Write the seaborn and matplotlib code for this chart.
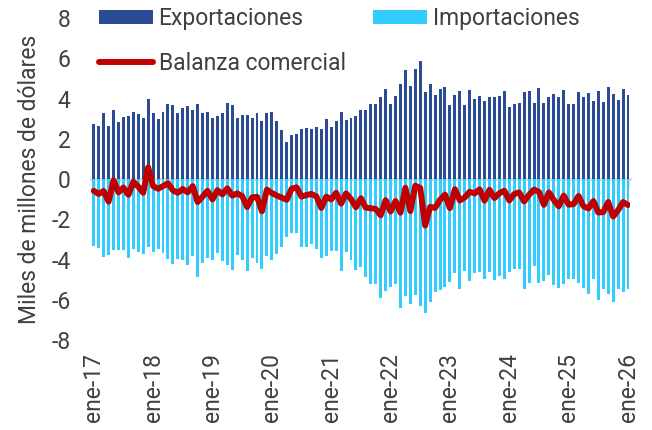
import numpy as np
import pandas as pd
import seaborn as sns
import matplotlib.pyplot as plt

sns.set_theme(style="white")
plt.rcParams["font.family"] = ["Roboto", "DejaVu Sans"]
plt.rcParams["axes.unicode_minus"] = False

# Monthly values, Jan 2017 - Jan 2026 (miles de millones de dolares)
exportaciones = [
    2.72, 2.66, 3.27, 2.66, 3.45, 2.85, 3.09, 3.15, 3.35, 3.22, 3.05, 3.96,
    3.28, 2.99, 3.33, 3.75, 3.68, 3.30, 3.55, 3.63, 3.45, 3.73, 3.30, 3.35,
    3.02, 3.13, 3.30, 3.80, 3.68, 3.05, 3.20, 3.20, 3.02, 3.28, 2.89, 3.28,
    3.35, 2.89, 2.43, 1.83, 2.18, 2.26, 2.51, 2.56, 2.49, 2.61, 2.48, 2.97,
    2.57, 2.90, 3.33, 2.92, 3.05, 3.12, 3.42, 3.42, 3.75, 3.75, 4.09, 4.49,
    3.75, 4.14, 4.72, 5.40, 4.60, 5.45, 5.86, 4.32, 4.72, 4.16, 4.50, 4.59,
    3.68, 4.17, 4.39, 3.68, 4.42, 3.96, 4.11, 3.88, 4.09, 4.09, 4.12, 4.37,
    3.56, 3.75, 3.80, 4.34, 4.37, 3.80, 4.54, 3.80, 4.09, 4.24, 4.06, 4.41,
    3.71, 3.71, 4.32, 4.06, 4.27, 3.89, 4.36, 3.81, 4.59, 4.24, 3.94, 4.47,
    4.19,
]
importaciones = [
    -3.30, -3.40, -3.86, -3.78, -3.51, -3.51, -3.51, -3.93, -3.48, -3.60, -3.73, -3.38,
    -3.63, -3.47, -3.68, -3.96, -4.24, -3.98, -4.04, -4.29, -3.80, -4.87, -4.17, -3.93,
    -4.03, -3.68, -4.06, -4.26, -4.50, -3.76, -4.04, -4.59, -3.93, -4.16, -4.49, -3.80,
    -4.04, -3.71, -3.35, -2.86, -2.66, -2.67, -3.38, -3.35, -3.23, -3.47, -3.91, -3.84,
    -3.58, -3.58, -4.55, -3.63, -4.04, -4.52, -4.37, -4.84, -5.20, -5.23, -5.89, -5.54,
    -5.36, -5.23, -6.39, -5.83, -6.19, -5.78, -6.30, -6.63, -6.10, -5.59, -5.53, -5.36,
    -5.12, -4.67, -5.45, -4.59, -5.05, -4.67, -4.62, -4.95, -4.62, -5.03, -4.82, -4.95,
    -4.62, -4.49, -4.46, -5.45, -5.15, -4.32, -5.18, -5.08, -4.75, -5.28, -5.41, -5.23,
    -4.98, -4.95, -5.16, -5.41, -5.73, -4.98, -6.02, -5.45, -5.73, -6.10, -5.48, -5.61,
    -5.48,
]
balanza = [
    -0.58, -0.74, -0.59, -1.12, -0.06, -0.66, -0.42, -0.78, -0.13, -0.38, -0.68, 0.58,
    -0.35, -0.48, -0.35, -0.21, -0.56, -0.68, -0.49, -0.66, -0.35, -1.14, -0.87, -0.58,
    -1.01, -0.55, -0.76, -0.46, -0.82, -0.71, -0.84, -1.39, -0.91, -0.88, -1.60, -0.52,
    -0.69, -0.82, -0.92, -1.03, -0.48, -0.41, -0.87, -0.79, -0.74, -0.86, -1.43, -0.87,
    -1.01, -0.68, -1.22, -0.71, -0.99, -1.40, -0.95, -1.42, -1.45, -1.48, -1.80, -1.05,
    -1.61, -1.09, -1.67, -0.43, -1.59, -0.33, -0.44, -2.31, -1.38, -1.43, -1.03, -0.77,
    -1.44, -0.50, -1.06, -0.91, -0.63, -0.71, -0.51, -1.07, -0.53, -0.94, -0.70, -0.58,
    -1.06, -0.74, -0.66, -1.11, -0.78, -0.52, -0.64, -1.28, -0.66, -1.04, -1.35, -0.82,
    -1.27, -1.24, -0.84, -1.35, -1.46, -1.09, -1.66, -1.64, -1.14, -1.86, -1.54, -1.14,
    -1.29,
]
etiquetas = ["ene-17", "ene-18", "ene-19", "ene-20", "ene-21",
             "ene-22", "ene-23", "ene-24", "ene-25", "ene-26"]
yticks = [-8, -6, -4, -2, 0, 2, 4, 6, 8]

data = pd.DataFrame({
    "mes": np.arange(len(exportaciones)),
    "exp": exportaciones,
    "imp": importaciones,
    "bal": balanza,
})

texto = "#404040"
fs = 16.5
fig, ax = plt.subplots(figsize=(6.52, 4.30), dpi=100)
fig.subplots_adjust(left=0.140, right=0.967, top=0.958, bottom=0.209)

sns.barplot(data=data, x="mes", y="exp", native_scale=True, color="#2B4C94",
            saturation=1, width=0.6, linewidth=0, errorbar=None, ax=ax,
            label="Exportaciones")
sns.barplot(data=data, x="mes", y="imp", native_scale=True, color="#33CCFF",
            saturation=1, width=0.6, linewidth=0, errorbar=None, ax=ax,
            label="Importaciones")
sns.lineplot(data=data, x="mes", y="bal", color="#C00000", linewidth=4.3,
             solid_capstyle="round", solid_joinstyle="round", ax=ax,
             label="Balanza comercial")

ax.set_xlim(-0.5, len(exportaciones) - 0.5)
ax.set_ylim(-8, 8)
for s in ax.spines.values():
    s.set_visible(False)

posiciones = list(range(0, len(exportaciones), 12))
ax.set_xticks(posiciones)
ax.set_xticklabels(etiquetas, rotation=90, fontsize=fs, color=texto)
ax.set_yticks(yticks)
ax.set_yticklabels([str(v) for v in yticks], fontsize=fs, color=texto)
ax.tick_params(axis="x", length=0, pad=9)
ax.tick_params(axis="y", length=0, pad=15)
ax.set_xlabel("")
ax.set_ylabel("Miles de millones de dólares", fontsize=fs, color=texto, labelpad=7)

# zero axis with year tick marks
eje0 = ax.secondary_xaxis(0.5)
eje0.set_alignment("bottom")
eje0.set_xticks(posiciones)
eje0.tick_params(length=6, width=2, color="#DDDDDD", labelbottom=False, labeltop=False)
eje0.spines["bottom"].set_color("#DDDDDD")
eje0.spines["bottom"].set_linewidth(2)

h, l = ax.get_legend_handles_labels()
orden = [l.index("Exportaciones"), l.index("Balanza comercial"), l.index("Importaciones")]
leg = ax.legend([h[i] for i in orden], [l[i] for i in orden], ncol=2,
                loc="upper left", bbox_to_anchor=(99 / 652, 1 - 7 / 430),
                bbox_transform=fig.transFigure, frameon=False, fontsize=fs,
                handlelength=2.35, handleheight=0.6, handletextpad=0.25,
                columnspacing=1.2, labelspacing=0.95, borderpad=0, borderaxespad=0)
for t in leg.get_texts():
    t.set_color(texto)

plt.savefig("out.png", dpi=100)
